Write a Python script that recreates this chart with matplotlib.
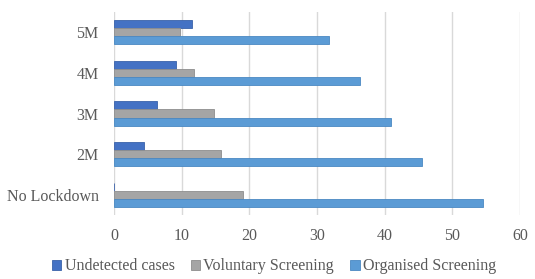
import numpy as np
import matplotlib.pyplot as plt

# ─── DATA ─────────────────────────────────────────────────────────────────────

categories  = ["No Lockdown", "2M", "3M", "4M", "5M"]
undetected  = [0.0, 4.4, 6.4, 9.2, 11.5]
voluntary   = [19.1, 15.8, 14.8, 11.8, 9.8]
organised   = [54.6, 45.5, 40.9, 36.3, 31.8]
x_ticks     = [0, 10, 20, 30, 40, 50, 60]

# ─── STYLE ────────────────────────────────────────────────────────────────────

plt.rcParams["font.family"] = ["Liberation Serif", "DejaVu Serif"]
TEXT_COLOR = "#595959"
H = 0.2

fig = plt.figure(figsize=(5.35, 2.79), dpi=100)
ax = fig.add_axes([0.213, 0.229, 0.759, 0.728])

y = np.arange(len(categories))
ax.barh(y + H, undetected, height=H, color="#4472C4", edgecolor="#3A62AA",
        linewidth=0.6, label="Undetected cases", zorder=3)
ax.barh(y, voluntary, height=H, color="#A5A5A5", edgecolor="#8E8E8E",
        linewidth=0.6, label="Voluntary Screening", zorder=3)
ax.barh(y - H, organised, height=H, color="#5B9BD5", edgecolor="#4A88C2",
        linewidth=0.6, label="Organised Screening", zorder=3)

ax.set_xlim(0, 60)
ax.set_ylim(-0.5, len(categories) - 0.5)
ax.set_xticks(x_ticks)
ax.set_yticks(y)
ax.set_yticklabels(categories)
ax.tick_params(axis="both", length=0, labelsize=11.5, colors=TEXT_COLOR)
ax.tick_params(axis="x", pad=9)
ax.tick_params(axis="y", pad=11)
ax.grid(axis="x", color="#D9D9D9", linewidth=1.0, zorder=0)
for s in ax.spines.values():
    s.set_visible(False)

leg = fig.legend(loc="lower center", bbox_to_anchor=(0.512, -0.035), ncol=3,
                 frameon=False, fontsize=11.5, handlelength=0.6, handleheight=0.6,
                 handletextpad=0.2, columnspacing=1.0)
for t in leg.get_texts():
    t.set_color(TEXT_COLOR)

plt.savefig("out.png", dpi=100)
